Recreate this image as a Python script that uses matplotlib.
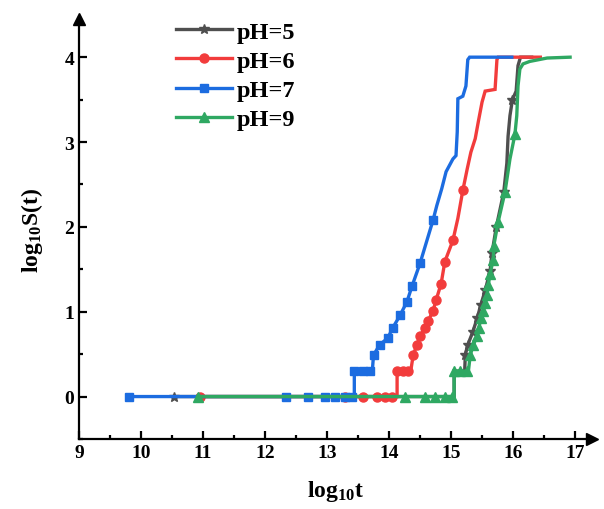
import matplotlib
matplotlib.use("Agg")
import matplotlib.pyplot as plt
from matplotlib.ticker import MultipleLocator

# ---- data ----
ph5_x = [10.53, 15.05, 15.05, 15.22, 15.23, 15.27, 15.35, 15.42, 15.48, 15.55, 15.63,
         15.66, 15.73, 15.85, 15.90, 15.92, 15.95, 15.99, 16.05, 16.08, 16.12, 16.30]
ph5_y = [0.00, 0.00, 0.30, 0.30, 0.49, 0.61, 0.76, 0.92, 1.08, 1.25, 1.48,
         1.69, 2.00, 2.41, 2.75, 3.07, 3.31, 3.50, 3.60, 3.90, 4.00, 4.00]
ph5_marks = [0, 4, 5, 6, 7, 8, 9, 10, 11, 12, 13, 17]

ph6_x = [10.95, 13.29, 13.58, 13.81, 13.94, 14.05, 14.13, 14.13, 14.23, 14.31, 14.35,
         14.39, 14.45, 14.50, 14.58, 14.63, 14.71, 14.76, 14.84, 14.90, 15.03, 15.11,
         15.19, 15.26, 15.32, 15.39, 15.44, 15.50, 15.55, 15.71, 15.74, 15.76, 16.44]
ph6_y = [0.00, 0.00, 0.00, 0.00, 0.00, 0.00, 0.00, 0.30, 0.30, 0.30, 0.30,
         0.49, 0.61, 0.71, 0.81, 0.89, 1.01, 1.14, 1.33, 1.59, 1.84, 2.10,
         2.43, 2.68, 2.88, 3.04, 3.24, 3.47, 3.60, 3.62, 3.97, 4.00, 4.00]
ph6_marks = [0, 1, 2, 3, 4, 5, 7, 8, 9, 11, 12, 13, 14, 15, 16, 17, 18, 19, 20, 22]

ph7_x = [9.80, 12.34, 12.69, 12.97, 13.13, 13.29, 13.40, 13.44, 13.44, 13.58, 13.69,
         13.73, 13.75, 13.85, 13.98, 14.06, 14.18, 14.29, 14.37, 14.50, 14.71, 14.77,
         14.85, 14.92, 15.03, 15.08, 15.10, 15.11, 15.19, 15.24, 15.27, 15.30, 15.98]
ph7_y = [0.00, 0.00, 0.00, 0.00, 0.00, 0.00, 0.00, 0.00, 0.30, 0.30, 0.30,
         0.30, 0.49, 0.61, 0.69, 0.81, 0.96, 1.12, 1.30, 1.57, 2.08, 2.25,
         2.45, 2.65, 2.80, 2.84, 3.12, 3.51, 3.54, 3.66, 3.97, 4.00, 4.00]
ph7_marks = [0, 1, 2, 3, 4, 5, 6, 8, 9, 10, 12, 13, 14, 15, 16, 17, 18, 19, 20]

ph9_x = [10.92, 14.26, 14.58, 14.74, 14.90, 15.02, 15.05, 15.05, 15.15, 15.26, 15.28,
         15.31, 15.36, 15.42, 15.45, 15.48, 15.52, 15.55, 15.58, 15.60, 15.63, 15.68,
         15.69, 15.76, 15.87, 15.95, 16.03, 16.06, 16.08, 16.11, 16.16, 16.27, 16.55, 16.92]
ph9_y = [0.00, 0.00, 0.00, 0.00, 0.00, 0.00, 0.00, 0.30, 0.30, 0.30, 0.30,
         0.49, 0.61, 0.71, 0.81, 0.93, 1.01, 1.10, 1.20, 1.31, 1.45, 1.61,
         1.78, 2.06, 2.41, 2.80, 3.09, 3.31, 3.66, 3.86, 3.92, 3.95, 3.99, 4.00]
ph9_marks = [0, 1, 2, 3, 4, 5, 7, 8, 9, 11, 12, 13, 14, 15, 16, 17, 18, 19, 20,
             21, 22, 23, 24, 26]

labels = ["pH=5", "pH=6", "pH=7", "pH=9"]

plt.rcParams["font.family"] = ["Liberation Serif", "DejaVu Serif"]
plt.rcParams["font.weight"] = "bold"
plt.rcParams["mathtext.fontset"] = "custom"
plt.rcParams["mathtext.rm"] = "Liberation Serif:bold"
plt.rcParams["mathtext.it"] = "Liberation Serif:bold"
plt.rcParams["mathtext.bf"] = "Liberation Serif:bold"

fig = plt.figure(figsize=(6.04, 5.10), dpi=100)
ax = fig.add_axes([0.1308, 0.1373, 0.849, 0.8235])

series = [
    (ph5_x, ph5_y, ph5_marks, "#4f4f4f", "*", 7.5),
    (ph6_x, ph6_y, ph6_marks, "#f23c3c", "o", 6.5),
    (ph7_x, ph7_y, ph7_marks, "#1c6ce0", "s", 6),
    (ph9_x, ph9_y, ph9_marks, "#2fa862", "^", 6.5),
]
for (x, y, marks, c, m, ms), lab in zip(series, labels):
    ax.plot(x, y, color=c, lw=2.4, marker=m, ms=ms, markevery=marks,
            label=lab, solid_joinstyle="miter")

ax.set_xlim(9, 17.27)
ax.set_ylim(-0.5, 4.45)
ax.xaxis.set_major_locator(MultipleLocator(1))
ax.xaxis.set_minor_locator(MultipleLocator(0.5))
ax.yaxis.set_major_locator(MultipleLocator(1))
ax.yaxis.set_minor_locator(MultipleLocator(0.5))
ax.tick_params(which="major", direction="in", length=6, width=1.6, labelsize=14)
ax.tick_params(which="minor", direction="in", length=3, width=1.6)
for lbl in ax.get_xticklabels() + ax.get_yticklabels():
    lbl.set_fontweight("bold")

ax.spines["top"].set_visible(False)
ax.spines["right"].set_visible(False)
ax.spines["left"].set_linewidth(1.6)
ax.spines["bottom"].set_linewidth(1.6)
ax.plot(1, 0, ">k", ms=9, transform=ax.transAxes, clip_on=False)
ax.plot(0, 1, "^k", ms=9, transform=ax.transAxes, clip_on=False)

ax.set_xlabel("log$_{10}$t", fontsize=17, fontweight="bold", labelpad=12)
ax.set_ylabel("log$_{10}$S(t)", fontsize=17, fontweight="bold", labelpad=14)

leg = ax.legend(loc="upper left", bbox_to_anchor=(0.16, 1.031), frameon=False,
                fontsize=17.5, handlelength=2.3, labelspacing=0.3, handletextpad=0.2,
                borderaxespad=0.2)
for t in leg.get_texts():
    t.set_fontweight("bold")

fig.savefig("out.png", dpi=100)
